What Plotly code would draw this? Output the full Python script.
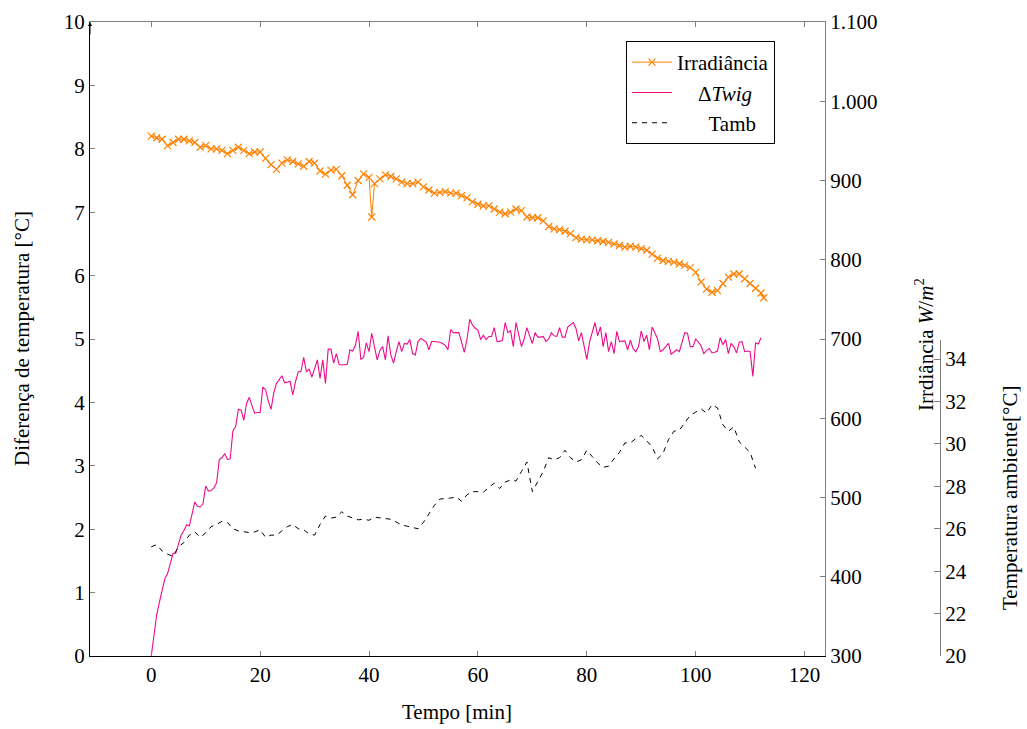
import plotly.graph_objects as go

# ---------------- data ----------------
# Irradiance [W/m^2], 1-min samples (plus the spike at 40.5 and last point at 112.5)
irr_t = list(range(0, 41)) + [40.5] + list(range(41, 113)) + [112.5]
irr = [956, 954, 952, 944, 948, 952, 952, 950, 948, 942,
       944, 940, 940, 938, 934, 938, 942, 938, 934, 936,
       936, 928, 920, 914, 922, 926, 924, 921, 918, 924,
       922, 912, 908, 913, 914, 906, 894, 882, 900, 908,
       904, 854,
       896, 902, 907, 905, 902, 898, 896, 896, 898,
       892, 888, 884, 885, 886, 884, 884, 881, 878, 873,
       870, 868, 868, 864, 860, 858, 860, 864, 862, 854,
       853, 853, 849, 842, 839, 838, 836, 833, 828, 826,
       825, 825, 824, 823, 822, 820, 818, 816, 817, 816,
       814, 812, 807, 802, 799, 798, 797, 795, 793, 790,
       784, 772, 763, 759, 761, 770, 778, 782, 782, 776,
       770, 764, 758, 752]

# Delta T wig [°C], 0.5-min samples from 0 to 112
dtwig_t = [i * 0.5 for i in range(225)]
dtwig = [0.0, 0.35, 0.65, 0.85, 1.05, 1.22, 1.3, 1.45, 1.62, 1.62,
         1.75, 1.91, 1.98, 2.07, 2.05, 2.25, 2.43, 2.36, 2.35, 2.4,
         2.68, 2.6, 2.61, 2.65, 2.73, 3.1, 3.13, 3.19, 3.1, 3.11,
         3.55, 3.62, 3.89, 3.88, 3.72, 3.98, 4.08, 3.95, 3.83, 3.84,
         3.84, 4.24, 4.2, 4.02, 3.89, 4.15, 4.3, 4.36, 4.42, 4.31,
         4.32, 4.33, 4.12, 4.33, 4.48, 4.49, 4.71, 4.48, 4.53, 4.4,
         4.53, 4.67, 4.38, 4.67, 4.3, 4.84, 4.84, 4.62, 4.77, 4.6,
         4.59, 4.59, 4.6, 4.83, 4.81, 4.9, 5.12, 4.68, 4.71, 4.94,
         4.8, 5.09, 4.88, 4.67, 4.82, 4.88, 4.67, 5.05, 4.75, 4.62,
         4.8, 4.96, 4.8, 4.93, 4.92, 4.99, 4.77, 4.75, 4.96, 5.01,
         4.98, 4.95, 4.83, 4.96, 4.96, 4.96, 4.95, 4.93, 4.9, 4.83,
         5.15, 5.1, 5.1, 5.1, 4.95, 4.79, 5.0, 5.31, 5.22, 5.17,
         5.14, 4.99, 5.06, 4.99, 5.04, 5.04, 5.18, 4.96, 4.96, 4.98,
         5.26, 5.1, 5.13, 4.88, 5.26, 5.05, 4.88, 5.0, 5.18, 5.05,
         4.93, 5.1, 5.03, 5.03, 5.04, 4.96, 5.0, 5.1, 5.05, 5.04,
         5.18, 5.03, 5.03, 5.19, 5.22, 5.26, 5.17, 4.97, 5.1, 4.9,
         4.68, 4.95, 5.1, 5.26, 5.05, 5.19, 4.88, 5.1, 4.8, 4.96,
         4.77, 5.12, 4.96, 4.97, 4.97, 4.83, 4.98, 4.85, 4.8, 4.88,
         5.13, 4.96, 5.06, 4.83, 5.19, 5.1, 5.0, 4.8, 4.83, 4.88,
         4.93, 4.76, 4.8, 4.83, 4.8, 4.95, 5.1, 5.09, 4.88, 4.88,
         5.0, 4.95, 4.89, 4.77, 4.82, 4.85, 4.78, 4.79, 4.81, 5.02,
         4.91, 4.99, 4.77, 4.93, 4.88, 4.78, 4.95, 4.96, 4.8, 4.81,
         4.8, 4.41, 4.94, 4.92, 5.02]

# Ambient temperature [°C], 1-min samples from 0 to 111
tamb_t = list(range(112))
tamb = [25.15, 25.25, 24.95, 24.8, 24.7, 25.15, 25.35, 25.7, 25.85, 25.6,
        25.8, 26.1, 26.2, 26.35, 26.3, 26.0, 25.9, 25.85, 25.82, 25.85,
        25.95, 25.6, 25.7, 25.7, 25.9, 26.1, 26.2, 26.0, 25.95, 25.75,
        25.7, 26.2, 26.6, 26.5, 26.55, 26.8, 26.6, 26.5, 26.42, 26.45,
        26.4, 26.55, 26.5, 26.48, 26.45, 26.3, 26.18, 26.12, 26.05, 26.0,
        26.3, 26.7, 27.1, 27.4, 27.42, 27.45, 27.5, 27.3, 27.6, 27.75,
        27.75, 27.72, 27.95, 28.15, 27.9, 28.2, 28.3, 28.25, 28.7, 29.15,
        27.75, 28.2, 28.7, 29.35, 29.25, 29.35, 29.7, 29.35, 29.15, 29.25,
        29.7, 29.4, 29.1, 28.9, 28.95, 29.3, 29.6, 30.05, 30.05, 30.25,
        30.4, 30.15, 29.85, 29.3, 29.55, 30.2, 30.6, 30.65, 31.0, 31.35,
        31.5, 31.65, 31.45, 31.85, 31.7, 30.9, 30.6, 30.8, 30.1, 29.85,
        29.6, 28.85]

x_ticks = [0, 20, 40, 60, 80, 100, 120]
left_ticks = list(range(0, 11))
irr_ticks = [300, 400, 500, 600, 700, 800, 900, 1000, 1100]
irr_ticktext = ["300", "400", "500", "600", "700", "800", "900", "1.000", "1.100"]
tamb_ticks = [20, 22, 24, 26, 28, 30, 32, 34]

# ---------------- style ----------------
FONT = "Liberation Serif"
FS = 21
TXT = dict(family=FONT, size=FS, color="black")
ORANGE = "#FF8000"
PINK = "#EE0A8C"
GRAY = "#808080"
NB = "\u00a0"

W, H = 1027, 729
ML, MR, MT, MB = 90, 10, 22, 73
PW = W - ML - MR          # paper width
PH = H - MT - MB          # paper height
XEND = 825                # right edge of the plotting box
AX3 = 940                 # position of the third axis


def px(xpix):
    return (xpix - ML) / PW


def py(ypix):
    return (H - MB - ypix) / PH


fig = go.Figure()

fig.add_trace(go.Scatter(
    x=irr_t, y=irr, name="Irradiância", yaxis="y2", mode="lines+markers",
    line=dict(color=ORANGE, width=1),
    marker=dict(symbol="x-thin", size=7, color=ORANGE, line=dict(width=1.2, color=ORANGE)),
))
fig.add_trace(go.Scatter(
    x=dtwig_t, y=dtwig, name=NB * 4 + "Δ<i>Twig</i>", yaxis="y", mode="lines",
    line=dict(color=PINK, width=1.1),
))
fig.add_trace(go.Scatter(
    x=tamb_t, y=tamb, name=NB * 6 + "Tamb", yaxis="y3", mode="lines",
    line=dict(color="black", width=1, dash="5px,5px"),
))

fig.update_layout(
    width=W, height=H,
    margin=dict(l=ML, r=MR, t=MT, b=MB),
    paper_bgcolor="white", plot_bgcolor="rgba(0,0,0,0)",
    font=TXT,
    showlegend=True,
    legend=dict(x=px(626), y=py(41), xanchor="left", yanchor="top",
                bgcolor="white", bordercolor="black", borderwidth=1,
                font=TXT, itemwidth=40, tracegroupgap=0),
    xaxis=dict(domain=[0, px(XEND)], range=[-11.25, 123.75], tickvals=x_ticks,
               ticks="inside", ticklen=5, tickcolor=GRAY, showline=True,
               linecolor="black", linewidth=1, showgrid=False, zeroline=False,
               anchor="y", tickfont=TXT),
    xaxis2=dict(domain=[0, px(XEND)], range=[-11.25, 123.75], tickvals=x_ticks,
                ticks="inside", ticklen=5, tickcolor=GRAY, showline=True,
                linecolor=GRAY, linewidth=1, showgrid=False, zeroline=False,
                showticklabels=False, overlaying="x", side="top", anchor="y"),
    yaxis=dict(range=[0, 10], tickvals=left_ticks, ticks="inside", ticklen=5,
               tickcolor=GRAY, showline=True, linecolor="black", linewidth=1,
               showgrid=False, zeroline=False, anchor="x", tickfont=TXT),
    yaxis2=dict(range=[300, 1100], tickvals=irr_ticks, ticktext=irr_ticktext,
                ticks="inside", ticklen=5, tickcolor=GRAY, showline=True,
                linecolor=GRAY, linewidth=1, showgrid=False, zeroline=False,
                overlaying="y", side="right", anchor="x", tickfont=TXT),
    yaxis3=dict(domain=[0, py(340)], range=[20, 34.9], tickvals=tamb_ticks,
                ticks="inside", ticklen=6, tickcolor=GRAY, showline=True,
                linecolor=GRAY, linewidth=1, showgrid=False, zeroline=False,
                side="right", anchor="free", position=px(AX3), tickfont=TXT),
)

# dummy trace to make xaxis2 exist
fig.add_trace(go.Scatter(x=[None], y=[None], xaxis="x2", yaxis="y",
                         showlegend=False, hoverinfo="skip"))

annotations = [
    dict(text="Tempo [min]", x=px(457), y=py(712), xref="paper", yref="paper",
         showarrow=False, xanchor="center", yanchor="middle", font=TXT),
    dict(text="Diferença de temperatura [°C]", x=px(22), y=py(339),
         xref="paper", yref="paper", showarrow=False, textangle=-90,
         xanchor="center", yanchor="middle", font=TXT),
    dict(text="Irrdiância <i>W</i>/<i>m</i><sup>2</sup>", x=px(925), y=py(345),
         xref="paper", yref="paper", showarrow=False, textangle=-90,
         xanchor="center", yanchor="middle", font=TXT),
    dict(text="Temperatura ambiente[°C]", x=px(1010), y=py(498),
         xref="paper", yref="paper", showarrow=False, textangle=-90,
         xanchor="center", yanchor="middle", font=TXT),
    dict(text="", x=-11.25, y=10, xref="x", yref="y", ax=0, ay=14,
         showarrow=True, arrowhead=2, arrowsize=0.8, arrowwidth=1,
         arrowcolor="black"),
]
fig.update_layout(annotations=annotations)

fig.write_html("out.html")
